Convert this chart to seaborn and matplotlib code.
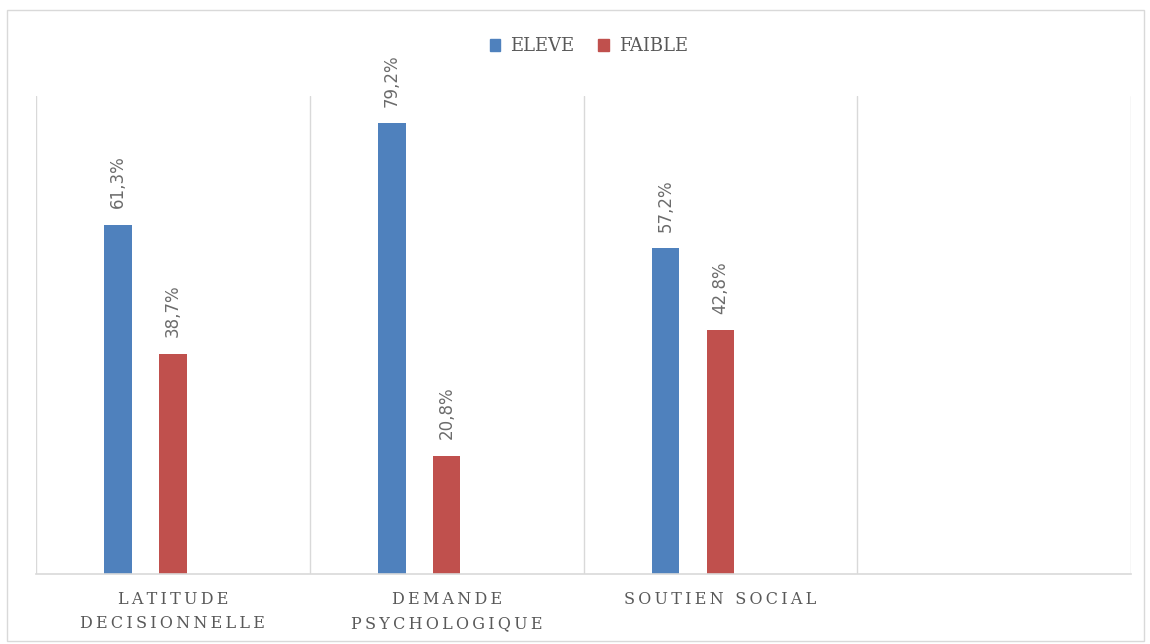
import pandas as pd
import matplotlib.pyplot as plt
import seaborn as sns
from matplotlib.patches import Patch, Rectangle

# Data
categories = ['LATITUDE\nDECISIONNELLE', 'DEMANDE\nPSYCHOLOGIQUE', 'SOUTIEN SOCIAL']
eleve = [61.3, 79.2, 57.2]
faible = [38.7, 20.8, 42.8]
series = ['ELEVE', 'FAIBLE']

BLUE = '#4F81BD'
RED = '#C0504D'
GREY_TXT = '#595959'


def spaced(text):
    # Emulate the wide letter spacing of the original axis labels
    return '\n'.join('\u2009'.join(line) for line in text.split('\n'))


rows = []
for cat, e, f in zip(categories, eleve, faible):
    rows.append({'cat': cat, 'serie': 'ELEVE', 'val': e})
    rows.append({'cat': cat, 'serie': 'FAIBLE', 'val': f})
df = pd.DataFrame(rows)

sns.set_style('white')
fig = plt.figure(figsize=(11.5, 6.44), dpi=100)
ax = fig.add_axes([0.0313, 0.1087, 0.9522, 0.7423])

# third (empty) hue level keeps the bars off-centre like the original
sns.barplot(data=df, x='cat', y='val', hue='serie',
            hue_order=['ELEVE', 'FAIBLE', 'vide'],
            order=categories,
            palette={'ELEVE': BLUE, 'FAIBLE': RED, 'vide': 'white'},
            width=0.6, gap=0.5, saturation=1, linewidth=0,
            errorbar=None, legend=False, ax=ax)

for cont in ax.containers:
    vals = [b.get_height() for b in cont]
    labels = [f"{v:.1f}%".replace('.', ',') if v == v else '' for v in vals]
    ax.bar_label(cont, labels=labels, rotation=90, padding=12,
                 color='#6B6B6B', fontsize=12, family='DejaVu Sans')

ax.set_xlim(-0.5, 3.5)
ax.set_ylim(0, 84)
ax.set_xlabel('')
ax.set_ylabel('')
ax.set_yticks([])
ax.set_xticks(range(len(categories)))
ax.set_xticklabels([spaced(c) for c in categories], family='DejaVu Serif',
                   fontsize=11.5, color=GREY_TXT, linespacing=1.55)
ax.tick_params(axis='x', length=0, pad=12)

# vertical separators between the category slots
for x in [-0.5, 0.5, 1.5, 2.5, 3.5]:
    ax.axvline(x, color='#D9D9D9', lw=1, zorder=0)
for side in ['top', 'left', 'right']:
    ax.spines[side].set_visible(False)
ax.spines['bottom'].set_color('#D9D9D9')
ax.spines['bottom'].set_linewidth(1.2)

handles = [Patch(color=BLUE, label=series[0]), Patch(color=RED, label=series[1])]
fig.legend(handles=handles, loc='center', bbox_to_anchor=(0.512, 0.928), ncol=2,
           frameon=False, handlelength=0.6, handleheight=0.6, handletextpad=0.55,
           columnspacing=1.3, prop={'family': 'DejaVu Serif', 'size': 13},
           labelcolor=GREY_TXT)

# light outer border of the chart area
fig.patches.append(Rectangle((0.006, 0.004), 0.989, 0.981, transform=fig.transFigure,
                             fill=False, edgecolor='#D9D9D9', lw=1))

fig.savefig('out.png', dpi=100)
